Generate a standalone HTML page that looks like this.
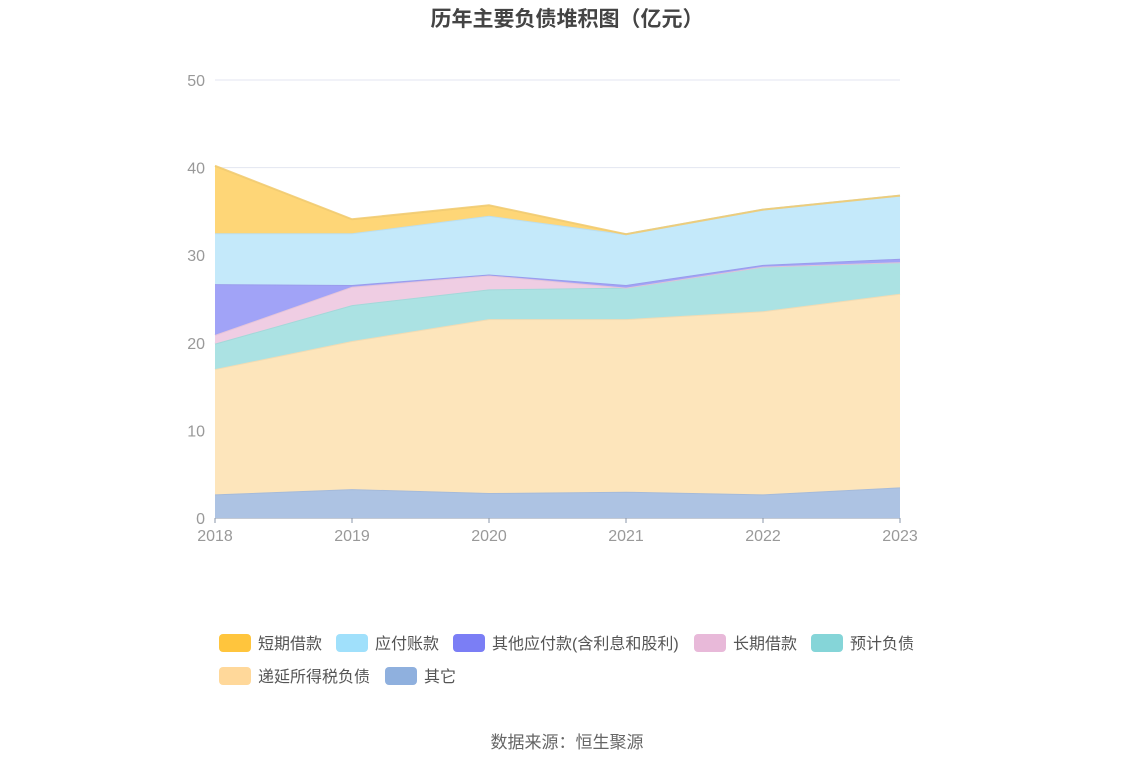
<!DOCTYPE html>
<html><head><meta charset="utf-8"><style>
body{margin:0;background:#fff;width:1134px;height:766px;overflow:hidden;font-family:"Liberation Sans","Noto Sans CJK SC",sans-serif}
</style></head><body>
<svg width="1134" height="766" id="chart">
<text x="567" y="26" text-anchor="middle" font-size="21" font-weight="bold" fill="#444" font-family="Liberation Sans,Noto Sans CJK SC,sans-serif">历年主要负债堆积图（亿元）</text>
<g id="grid"></g><g id="areas"></g><g id="axes"></g><g id="legend"></g>
<text x="567" y="748" text-anchor="middle" font-size="17" fill="#666" font-family="Liberation Sans,Noto Sans CJK SC,sans-serif">数据来源：恒生聚源</text>
</svg>
<script>
const years=["2018","2019","2020","2021","2022","2023"];
const yTicks=[0,10,20,30,40,50];
const sOther=[2.7,3.3,2.85,3.0,2.7,3.5];
const sDeferred=[14.3,16.9,19.85,19.7,20.9,22.1];
const sProvision=[2.9,4.1,3.4,3.6,5.1,3.6];
const sLongLoan=[1.0,2.1,1.6,0,0,0];
const sOtherPay=[5.8,0.2,0.1,0.3,0.2,0.4];
const sPayable=[5.8,5.9,6.7,5.8,6.3,7.2];
const sShortLoan=[7.7,1.6,1.2,0,0,0];
const NS="http://www.w3.org/2000/svg";
const x0=215,x1=900,yb=518,yt=80,ymax=50;
const X=i=>x0+(x1-x0)*i/(years.length-1);
const Y=v=>yb-(yb-yt)*v/ymax;
function mk(t,a,p){const e=document.createElementNS(NS,t);for(const k in a)e.setAttribute(k,a[k]);p.appendChild(e);return e;}
const grid=document.getElementById('grid');
yTicks.forEach(t=>{
 const l=mk('line',{x1:x0,x2:x1,y1:Y(t),y2:Y(t),stroke:t?'#e3e6f0':'#8a96a8','stroke-width':1},grid);
 
 
 const tx=mk('text',{x:205,y:Y(t)+6,'text-anchor':'end','font-size':16,fill:'#999'},grid);tx.textContent=t;
 
 
});
const series=[
 {n:'其它',d:sOther,f:'#adc3e3',c:'#8fb0de'},
 {n:'递延所得税负债',d:sDeferred,f:'#fde5bb',c:'#ffd89a'},
 {n:'预计负债',d:sProvision,f:'#abe2e3',c:'#85d5d8'},
 {n:'长期借款',d:sLongLoan,f:'#efcde3',c:'#e8b9d9'},
 {n:'其他应付款(含利息和股利)',d:sOtherPay,f:'#a1a3f7',c:'#7b7ef5'},
 {n:'应付账款',d:sPayable,f:'#c4e9fa',c:'#a0e0fb'},
 {n:'短期借款',d:sShortLoan,f:'#fed677',c:'#ffc53d'}];
const areas=document.getElementById('areas');
let base=years.map(()=>0);
series.forEach((s,k)=>{
 const top=base.map((b,i)=>b+s.d[i]);
 let d='M'+top.map((v,i)=>X(i)+','+Y(v)).join('L');
 for(let i=years.length-1;i>=0;i--)d+='L'+X(i)+','+Y(base[i]);
 const p=mk('path',{d:d+'Z',fill:s.f},areas);
 
 
 const ln=mk('path',{d:'M'+top.map((v,i)=>X(i)+','+Y(v)).join('L'),fill:'none',stroke:s.f,'stroke-width':2,'stroke-opacity':0.9,filter:'brightness(0.95)'},areas);
 
 
 base=top;
});
const axes=document.getElementById('axes');
years.forEach((y,i)=>{
 mk('line',{x1:X(i),x2:X(i),y1:yb,y2:yb+5,stroke:'#8a96a8'},axes);
 const t=mk('text',{x:X(i),y:yb+23,'text-anchor':'middle','font-size':16,fill:'#999'},axes);t.textContent=y;
 
 
});
const leg=document.getElementById('legend');
const pos=[[219,643,6],[336,643,5],[453,643,4],[694,643,3],[811,643,2],[219,676,1],[385,676,0]];
const lnames=['短期借款','应付账款','其他应付款(含利息和股利)','长期借款','预计负债','递延所得税负债','其它'];
pos.forEach((p,j)=>{
 const s=series[p[2]];
 const g=mk('g',{},leg);
 
 
 mk('rect',{x:p[0],y:p[1]-9,width:32,height:18,rx:4,fill:s.c},g);
 const t=mk('text',{x:p[0]+39,y:p[1]+6,'font-size':16,fill:'#555'},g);t.textContent=lnames[j];
});
</script>
</body></html>
